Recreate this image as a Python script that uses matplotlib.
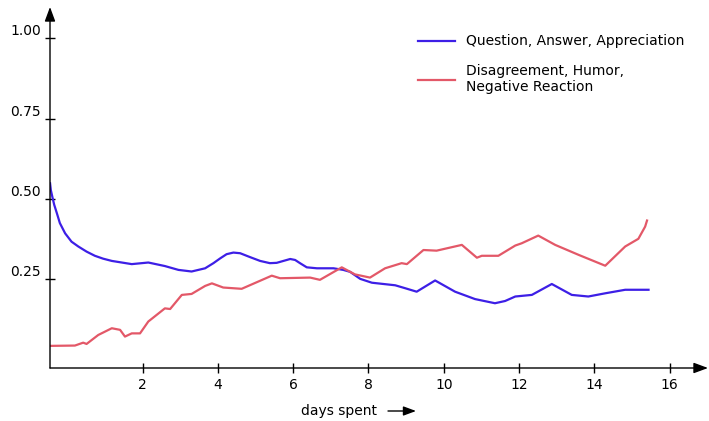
#!/usr/bin/env python3
"""Dialogue act share over days spent: two smoothed curves with arrow axes."""

import matplotlib
matplotlib.use("Agg")
import matplotlib.pyplot as plt

# blue: Question, Answer, Appreciation
days_qaa = [-0.46, -0.44, -0.40, -0.35, -0.28, -0.20, -0.06, 0.11, 0.29, 0.51,
            0.73, 0.95, 1.18, 1.71, 2.15, 2.59, 2.95, 3.30, 3.66, 3.70,
            3.88, 4.06, 4.23, 4.41, 4.59, 4.85, 5.12, 5.38, 5.56, 5.74,
            5.92, 6.05, 6.18, 6.36, 6.63, 7.07, 7.33, 7.51, 7.78, 8.09,
            8.71, 8.97, 9.28, 9.77, 10.30, 10.83, 11.36, 11.63, 11.90, 12.34,
            12.87, 13.40, 13.84, 14.29, 14.82, 15.44]
share_qaa = [0.548, 0.527, 0.506, 0.481, 0.455, 0.424, 0.392, 0.366, 0.351, 0.335,
             0.322, 0.313, 0.306, 0.296, 0.301, 0.290, 0.278, 0.273, 0.283, 0.286,
             0.299, 0.314, 0.327, 0.332, 0.330, 0.318, 0.306, 0.299, 0.300, 0.306,
             0.312, 0.309, 0.299, 0.286, 0.283, 0.283, 0.278, 0.272, 0.250, 0.238,
             0.230, 0.221, 0.210, 0.245, 0.210, 0.187, 0.174, 0.181, 0.195, 0.200,
             0.234, 0.200, 0.195, 0.205, 0.216, 0.216]

# red: Disagreement, Humor, Negative Reaction
days_dhn = [-0.46, 0.20, 0.42, 0.51, 0.82, 1.18, 1.40, 1.53, 1.71, 1.93,
            2.15, 2.59, 2.73, 3.04, 3.30, 3.66, 3.84, 4.14, 4.63, 5.43,
            5.65, 6.45, 6.71, 7.29, 7.64, 8.04, 8.44, 8.88, 9.02, 9.46,
            9.81, 10.48, 10.88, 11.01, 11.45, 11.90, 12.07, 12.51, 12.96, 13.58,
            14.29, 14.82, 15.17, 15.35, 15.40]
share_dhn = [0.041, 0.042, 0.051, 0.047, 0.075, 0.096, 0.091, 0.070, 0.080, 0.080,
             0.117, 0.158, 0.156, 0.200, 0.203, 0.228, 0.236, 0.223, 0.219, 0.260,
             0.252, 0.254, 0.247, 0.286, 0.264, 0.254, 0.283, 0.299, 0.296, 0.340,
             0.338, 0.356, 0.316, 0.322, 0.322, 0.354, 0.361, 0.385, 0.356, 0.325,
             0.291, 0.351, 0.375, 0.413, 0.432]

x_ticks = [2, 4, 6, 8, 10, 12, 14, 16]
y_ticks = [0.25, 0.50, 0.75, 1.00]
y_tick_labels = ["0.25", "0.50", "0.75", "1.00"]

W, H = 709, 421
fig = plt.figure(figsize=(W / 100, H / 100), dpi=100)
# axes box in pixels: left 50, right 708, bottom line at 368, top at 7
ax = fig.add_axes([50 / W, (H - 368) / H, (708 - 50) / W, (368 - 7) / H])

ax.plot(days_qaa, share_qaa, color="#3d1fe6", lw=1.6,
        solid_joinstyle="round", label="Question, Answer, Appreciation")
ax.plot(days_dhn, share_dhn, color="#e35868", lw=1.6,
        solid_joinstyle="round", label="Disagreement, Humor,\nNegative Reaction")

ax.set_xlim(-0.462, 17.02)
ax.set_ylim(-0.028, 1.098)

for side in ["top", "right", "left", "bottom"]:
    ax.spines[side].set_visible(False)

# axis lines with arrow heads
head = "-|>,head_length=0.54,head_width=0.2"
ax.annotate("", xy=(1, 0), xytext=(0, 0), xycoords="axes fraction",
            arrowprops=dict(arrowstyle=head, color="black", lw=1,
                            mutation_scale=16, shrinkA=0, shrinkB=0))
ax.annotate("", xy=(0, 1), xytext=(0, 0), xycoords="axes fraction",
            arrowprops=dict(arrowstyle=head, color="black", lw=1,
                            mutation_scale=16, shrinkA=0, shrinkB=0))

ax.set_xticks(x_ticks)
ax.set_yticks(y_ticks)
ax.set_yticklabels(y_tick_labels)
ax.tick_params(axis="both", direction="inout", length=7, width=1,
               labelsize=10, colors="black")
ax.tick_params(axis="y", pad=3)
for lbl in ax.get_yticklabels():
    lbl.set_verticalalignment("bottom")

leg = fig.legend(loc="upper left", bbox_to_anchor=(405 / W, 1 - 22 / H),
                 frameon=False, fontsize=10, handlelength=2.7,
                 handletextpad=0.8, labelspacing=1.1)

fig.text(339 / W, (H - 411) / H, "days spent", ha="center", va="center",
         fontsize=10)
ax.annotate("", xy=(416 / W, (H - 411) / H), xytext=(388 / W, (H - 411) / H),
            xycoords="figure fraction",
            arrowprops=dict(arrowstyle=head, color="black", lw=1,
                            mutation_scale=14, shrinkA=0, shrinkB=0))

fig.savefig("out.png", dpi=100)
